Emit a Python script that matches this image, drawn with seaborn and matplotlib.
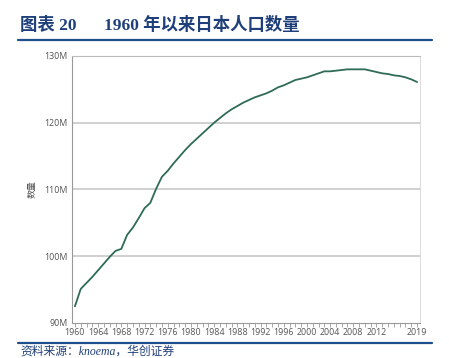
import numpy as np
import pandas as pd
import seaborn as sns
import matplotlib.pyplot as plt
from matplotlib.ticker import FuncFormatter, MultipleLocator

# data (population, millions)
years = list(range(1960, 2020))
population = [92.5, 95.1, 96.0, 96.9, 97.9, 98.9, 99.9, 100.8, 101.1, 103.2,
              104.3, 105.7, 107.2, 108.0, 110.1, 111.9, 112.8, 113.9, 114.9, 115.9,
              116.8, 117.6, 118.4, 119.2, 120.0, 120.7, 121.4, 122.0, 122.5, 123.0,
              123.4, 123.8, 124.1, 124.4, 124.8, 125.3, 125.6, 126.0, 126.4, 126.6,
              126.8, 127.1, 127.4, 127.7, 127.7, 127.8, 127.9, 128.0, 128.0, 128.0,
              128.0, 127.8, 127.6, 127.4, 127.3, 127.1, 127.0, 126.8, 126.5, 126.1]
xtick_labels = [1960, 1964, 1968, 1972, 1976, 1980, 1984, 1988, 1992, 1996,
                2000, 2004, 2008, 2012, 2019]

df = pd.DataFrame({"year": years, "pop": population})

sns.set_style("white")
plt.rcParams['font.family'] = ['Open Sans', 'Noto Sans CJK SC', 'DejaVu Sans']

fig = plt.figure(figsize=(4.49, 3.58), dpi=100)
ax = fig.add_axes([0.1604, 0.0978, 0.775, 0.7458])

sns.lineplot(data=df, x="year", y="pop", ax=ax, color="#2f6b55", linewidth=1.3)

ax.set_xlim(1959.5, 2019.5)
ax.set_ylim(90, 130)
ax.set_yticks([90, 100, 110, 120, 130])
ax.yaxis.set_major_formatter(FuncFormatter(lambda v, p: f"{int(v)}M"))
ax.set_xticks(xtick_labels)
ax.xaxis.set_minor_locator(MultipleLocator(1))
ax.tick_params(axis="x", which="both", direction="out", length=3, width=0.6,
               color="#999999", bottom=True, labelsize=6.4, labelcolor="#555555", pad=0.5)
ax.tick_params(axis="y", length=0, labelsize=6.4, labelcolor="#555555", pad=3)

for y in [100, 110, 120]:
    ax.axhline(y, color="#d0d0d0", linewidth=1.4, zorder=0)

ax.spines["left"].set_color("#999999")
ax.spines["bottom"].set_color("#999999")
ax.spines["top"].set_color("#bbbbbb")
ax.spines["right"].set_color("#dddddd")
for s in ax.spines.values():
    s.set_linewidth(0.8)

ax.set_xlabel("")
ax.set_ylabel("数量", fontsize=6.4, color="#555555", labelpad=6)

# title block
title_font = ['Liberation Serif', 'Noto Sans CJK SC']
fig.text(0.045, 0.93, "图表 20", fontsize=12.5, fontweight="bold", color="#1f3f7a",
         family=title_font, va="center")
fig.text(0.232, 0.93, "1960 年以来日本人口数量", fontsize=12.5, fontweight="bold",
         color="#1f3f7a", family=title_font, va="center")
fig.add_artist(plt.Line2D([0.04, 0.962], [0.888, 0.888], color="#1f4e8c", linewidth=1.6))
fig.add_artist(plt.Line2D([0.04, 0.962], [0.042, 0.042], color="#1f4e8c", linewidth=1.6))
fig.text(0.045, 0.019, "资料来源：knoema，华创证券", fontsize=8.5, style="italic",
         color="#1f3f7a", family=title_font, va="center")

fig.savefig("out.png", dpi=100)
